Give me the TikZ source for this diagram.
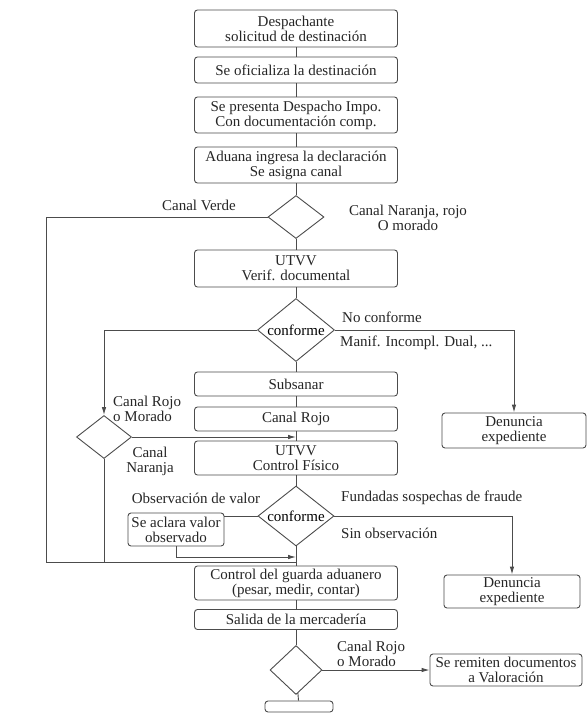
\documentclass[tikz,border=0pt]{standalone}
\usepackage{fontspec}
\setmainfont{Liberation Serif}
\usetikzlibrary{shapes.geometric,arrows.meta}
\begin{document}
\begin{tikzpicture}[x=1pt, y=-1pt, font=\fontsize{15}{15}\selectfont,
        B/.style={draw=black!70, line width=0.9pt, rounded corners=3pt, align=center, inner sep=1pt, minimum width=203pt, text=black!85},
        D/.style={draw=black!70, line width=0.9pt, shape=diamond, inner sep=0pt},
        T/.style={align=left, inner sep=0pt, text=black!85},
        E/.style={draw=black!70, line width=0.9pt},
        A/.style={E, -{Latex[length=8pt, width=4.5pt]}}
      ]
      \useasboundingbox[fill=white] (0,0) rectangle (587,713);
      \node[B, minimum height=37pt] (despachante) at (296,28.5) {Despachante\\solicitud de destinación};
      \node[B, minimum height=26pt] (oficializa) at (296,70) {Se oficializa la destinación};
      \node[B, minimum height=36pt] (presenta) at (296,115) {Se presenta Despacho Impo.\\Con documentación comp.};
      \node[B, minimum height=36pt] (ingresa) at (296,165) {Aduana ingresa la declaración\\Se asigna canal};
      \node[D, minimum width=56pt, minimum height=43pt] (canal) at (296,217) {};
      \node[B, minimum height=37pt] (verifdoc) at (296,268.5) {UTVV\\Verif. documental};
      \node[D, minimum width=77pt, minimum height=63pt, label=center:conforme] (conf1) at (296,330) {};
      \node[B, minimum height=24pt] (subsanar) at (296,384) {Subsanar};
      \node[B, minimum height=24pt] (rojo) at (296,419) {Canal Rojo};
      \node[D, minimum width=55pt, minimum height=43pt] (canal2) at (104,437) {};
      \node[B, minimum height=34pt] (fisico) at (296,458) {UTVV\\Control Físico};
      \node[D, minimum width=76pt, minimum height=60pt, label=center:conforme] (conf2) at (296,516) {};
      \node[B, minimum width=96pt, minimum height=33pt] (aclara) at (176,529.5) {Se aclara valor\\observado};
      \node[B, minimum height=34pt] (guarda) at (296,583) {Control del guarda aduanero\\(pesar, medir, contar)};
      \node[B, minimum height=20pt] (salida) at (296,619.5) {Salida de la mercadería};
      \node[D, minimum width=52pt, minimum height=49pt] (canal3) at (296,670) {};
      \node[B, minimum width=68pt, minimum height=11pt, inner sep=0pt] (fin) at (299,706.5) {};
      \node[B, minimum width=152pt, minimum height=32pt] (remiten) at (506,670) {Se remiten documentos\\a Valoración};
      \node[B, minimum width=144pt, minimum height=35pt] (denuncia1) at (514,430.5) {Denuncia\\expediente};
      \node[B, minimum width=136pt, minimum height=33pt] (denuncia2) at (512,591.5) {Denuncia\\expediente};
      \node[T] (verde) at (199,205) {Canal Verde};
      \node[T, align=center] (naranja) at (408,218) {Canal Naranja, rojo\\O morado};
      \node[T, anchor=west] (noconf) at (342,317) {No conforme};
      \node[T, anchor=west] (manif) at (340,343) {Manif. Incompl. Dual, ...};
      \node[T, anchor=west] (rojomorado) at (113,408.5) {Canal Rojo\\o Morado};
      \node[T, align=center] (naranjados) at (150,461) {Canal\\Naranja};
      \node[T] (observacion) at (196,498) {Observación de valor};
      \node[T, anchor=west] (fundadas) at (341,498) {Fundadas sospechas de fraude};
      \node[T, anchor=west] (sinobs) at (341,533) {Sin observación};
      \node[T, anchor=west] (rojomoradodos) at (337,654) {Canal Rojo\\o Morado};
      \coordinate (verdeesq) at (46,217);
      \coordinate (retorno) at (46,562);
      \coordinate (aclarabajo) at (176,557);
      \foreach \a/\b in {despachante/oficializa, oficializa/presenta, presenta/ingresa, ingresa/canal, canal/verifdoc, verifdoc/conf1, conf1/subsanar, subsanar/rojo, rojo/fisico, fisico/conf2, conf2/guarda, guarda/salida, salida/canal3, canal3/fin}
        \draw[E] (\a) -- (\b);
      \draw[E] (canal.west) -- (verdeesq) -- (retorno) -- (retorno -| guarda.north);
      \draw[A] (conf1.west) -| (canal2.north);
      \draw[A] (conf1.east) -| (denuncia1.north);
      \draw[A] (canal2.east) -- (canal2.east -| rojo.south);
      \draw[E] (canal2.south) -- (canal2.south |- retorno);
      \draw[E] (conf2.west) -- (conf2.west -| aclara.east);
      \draw[A] (aclara.south) -- (aclarabajo) -- (aclarabajo -| guarda.north);
      \draw[A] (conf2.east) -| (denuncia2.north);
      \draw[A] (canal3.east) -- (remiten.west);
    \end{tikzpicture}
\end{document}
